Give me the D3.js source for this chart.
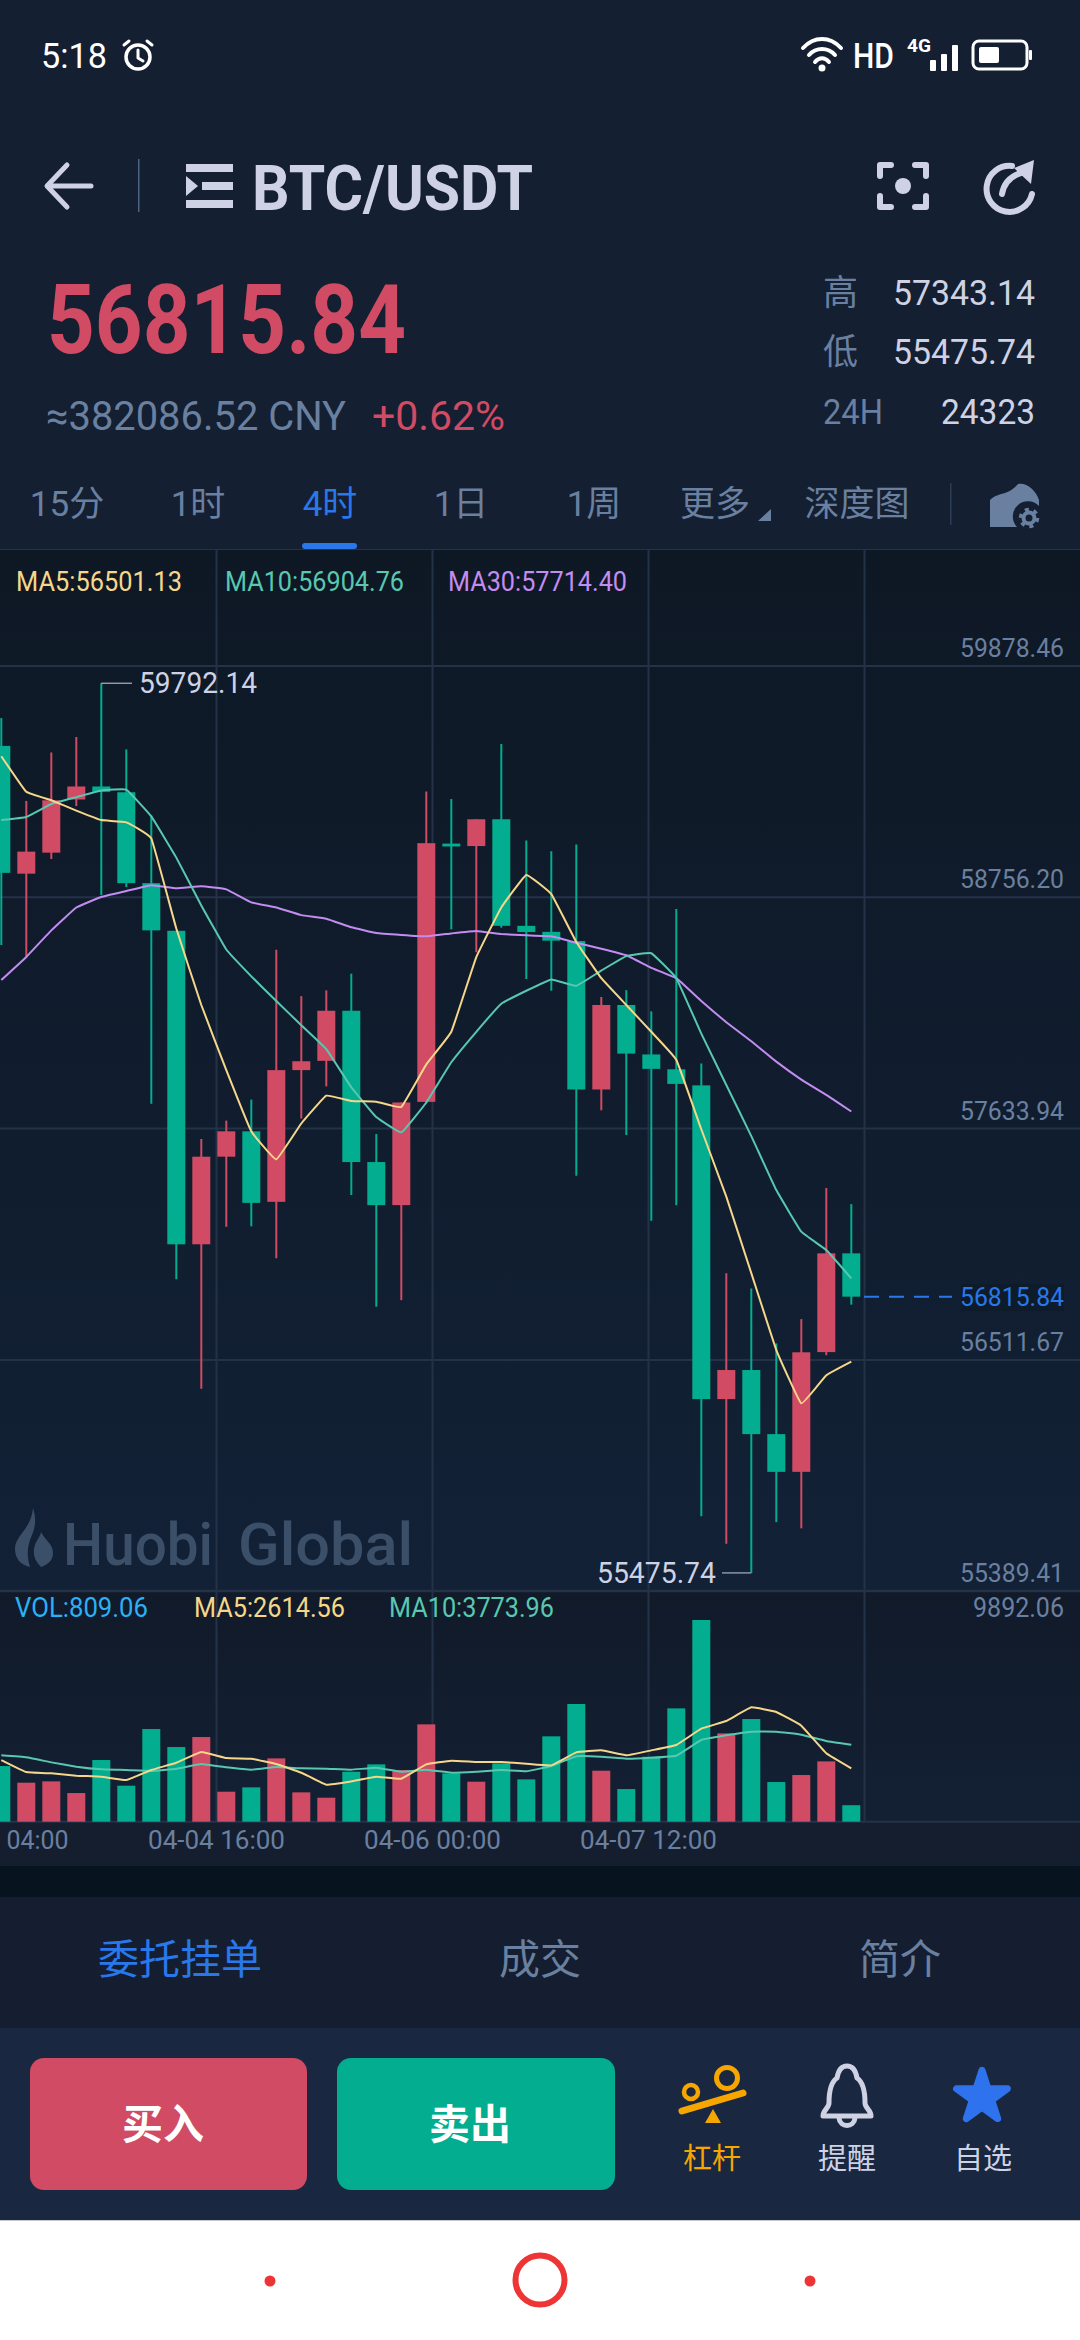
<!DOCTYPE html>
<html>
<head>
<meta charset="utf-8">
<script src="https://cdn.jsdelivr.net/npm/d3@7"></script>
<style>
  html, body { margin: 0; padding: 0; background: #141f31; }
  svg { display: block; }
  text { font-family: Roboto, "Noto Sans CJK SC", sans-serif; }
</style>
</head>
<body>
<div class="canvas"></div>
<script>
// candles, oldest first
const opens = [59488,58868,58970,59228,59291,59263,58822,58591,57070,57495,57618,57276,57915,57960,58203,57469,57260,57761,59014,59002,59132,58615,58586,58541,57821,58231,57991,57919,57841,56319,56460,56149,55966,56547,57026];
const highs = [59623,59221,59456,59531,59792.14,59471,59150,58591,57581,57670,57772,58499,58274,58302,58383,57605,57758,59267,59230,59132,59497,59029,58977,59009,58270,58303,58200,58697,57947,56929,56856,56589,56707,57343.14,57265];
const lows = [58522,58467,58939,59196,58764,58803,57752,56900,56369,57155,57157,57002,57680,57836,57309,56767,56799,57754,58598,58487,58606,58357,58300,57402,57720,57600,57184,57260,55751,55617,55475.74,55722,55692,56532,56777];
const closes = [58872,58975,59224,59291,59265,58822,58593,57070,57495,57618,57271,57915,57958,58203,57469,57260,57758,59016,59000,59132,58615,58585,58543,57821,58231,57995,57921,57848,56319,56460,56149,55966,56546,57026,56815.84];

const ma5 = [59438,59265,59224,59174,59128,59117,59039,58602,58231,57915,57618,57482,57656,57791,57765,57762,57736,57943,58101,58463,58704,58862,58769,58537,58361,58231,58101,57965,57628,57301,56930,56557,56298,56435,56501.13];
const ma10 = [59128,59143,59206,59239,59271,59276,59146,58946,58714,58500,58370,58250,58133,58017,57832,57687,57613,57758,57953,58101,58237,58300,58355,58324,58398,58468,58482,58361,58092,57843,57595,57333,57131,57042,56904.76];
const ma30 = [58352,58464,58593,58704,58755,58784,58812,58797,58807,58792,58729,58704,58667,58649,58608,58580,58571,58564,58578,58590,58575,58569,58564,58533,58504,58472,58411,58361,58250,58147,58055,57956,57869,57795,57714.40];

const volumes = [2730,1913,1978,1406,3025,1766,4545,3662,4153,1471,1684,3106,1439,1177,2452,2812,2534,4774,2371,1962,2861,2076,4186,5772,2501,1602,3188,5559,9892.06,4333,5036,1946,2289,2959,809.06];
const volMa5 = [3025,2436,2371,2256,2207,2044,2534,2894,3417,3123,3090,2829,2403,1815,1978,2207,2109,2812,2992,2927,2927,2845,2763,3401,3499,3254,3499,3761,4562,4938,5608,5379,4709,3352,2614.56];
const volMa10 = [3254,3156,2910,2698,2567,2534,2485,2600,2829,2665,2551,2681,2616,2600,2551,2649,2452,2551,2403,2452,2534,2469,2730,3205,3188,3090,3139,3237,4006,4235,4415,4415,4267,3957,3773.96];

const priceTicks = [59878.46,58756.20,57633.94,56511.67,55389.41];
const timeTicks = [0,1,2,3,4];
const timeLabels = ['04:00','04-04 16:00','04-06 00:00','04-07 12:00',''];
const periods = ['15分','1时','4时','1日','1周','更多','深度图'];
const stats = [['高','57343.14'],['低','55475.74'],['24H','24323']];
const lastPrice = 56815.84;

const RED = '#d04b63', GREEN = '#03ad8f', BLUE = '#2878ec', GREY = '#6a80a0', LIGHT = '#ced2e4';
const YELLOW = '#f6d78a', TEAL = '#58c8b0', PURPLE = '#c28cf0', GRID = '#243248';

const svg = d3.select('.canvas').append('svg').attr('width', 1080).attr('height', 2340);

const defs = svg.append('defs');
function gradient(id, from, to) {
  const g = defs.append('linearGradient').attr('id', id).attr('x1', 0).attr('y1', 0).attr('x2', 0).attr('y2', 1);
  g.append('stop').attr('offset', 0).attr('stop-color', from);
  g.append('stop').attr('offset', 1).attr('stop-color', to);
}
gradient('chartBg', '#0e1825', '#122136');
gradient('volBg', '#111a29', '#132034');

function box(x, y, w, h, fill, r) {
  return svg.append('rect').attr('x', x).attr('y', y).attr('width', w).attr('height', h).attr('fill', fill).attr('rx', r || 0);
}

// width squeezes the font to the narrow look of the app
function label(text, x, y, size, color, opts) {
  const o = opts || {};
  const t = svg.append('text').text(text)
    .attr('x', x).attr('y', y).attr('dy', '0.35em')
    .attr('font-size', size).attr('fill', color)
    .attr('text-anchor', o.anchor || 'start')
    .attr('font-weight', o.weight || 400);
  if (o.width) t.attr('textLength', o.width).attr('lengthAdjust', 'spacingAndGlyphs');
  return t;
}

function stroke(d, color, w) {
  return svg.append('path').attr('d', d).attr('fill', 'none').attr('stroke', color)
    .attr('stroke-width', w).attr('stroke-linecap', 'round').attr('stroke-linejoin', 'round');
}

function fill(d, color) {
  return svg.append('path').attr('d', d).attr('fill', color);
}

// backgrounds
box(0, 0, 1080, 549, '#141f31');
box(0, 549, 1080, 1042, 'url(#chartBg)');
box(0, 1591, 1080, 231, 'url(#volBg)');
box(0, 1822, 1080, 44, '#141e2f');
box(0, 1866, 1080, 31, '#07141f');
box(0, 1897, 1080, 131, '#141e30');
box(0, 2028, 1080, 192, '#192840');
box(0, 2220, 1080, 120, '#ffffff');
box(0, 2220, 1080, 1, '#c8c8c8');

// status bar
label('5:18', 41, 56, 35, '#ffffff', { width: 66 });
svg.append('circle').attr('cx', 138).attr('cy', 57).attr('r', 12).attr('fill', 'none').attr('stroke', '#fff').attr('stroke-width', 3.5);
stroke('M138 50V58L143 61M124 45L129 41M152 45L147 41', '#fff', 3);
stroke('M803 48C814 36 830 36 841 48M809 55C816 47 828 47 835 55M815 62C819 57 825 57 829 62', '#fff', 4);
svg.append('circle').attr('cx', 822).attr('cy', 68).attr('r', 3.5).attr('fill', '#fff');
label('HD', 853, 56, 35, '#fff', { width: 41, weight: 500 });
label('4G', 907, 46, 18, '#fff', { width: 24, weight: 700 });
[[930, 60], [941, 54], [952, 45]].forEach(b => box(b[0], b[1], 6, 71 - b[1], '#fff', 1));
box(973, 41, 54, 28, 'none', 6).attr('stroke', '#fff').attr('stroke-width', 3);
box(979, 47, 20, 16, '#fff', 2);
box(1029, 50, 3, 10, '#fff', 1);

// title row
stroke('M91 186H49M67 165L47 186L67 207', LIGHT, 5);
box(138, 159, 1.5, 53, '#4c6283');
box(186, 164, 47, 8, LIGHT);
box(186, 200, 47, 8, LIGHT);
box(202, 182, 31, 8, LIGHT);
fill('M186 176L198 186L186 196Z', LIGHT);
label('BTC/USDT', 252, 188, 63, LIGHT, { width: 281, weight: 700 });
stroke('M880 176V165H891M915 165H926V176M880 196V207H891M915 207H926V196', LIGHT, 6);
svg.append('circle').attr('cx', 903).attr('cy', 186).attr('r', 8).attr('fill', LIGHT);
stroke('M1012 166A23 23 0 1 0 1032 194', LIGHT, 6);
stroke('M1002 194C1004 182 1012 175 1024 172', LIGHT, 6);
fill('M1034 160L1031 184L1014 168Z', LIGHT);

// price block
label('56815.84', 47, 319, 96, RED, { width: 359, weight: 700 });
label('≈382086.52 CNY', 46, 416, 40, GREY, { width: 300 });
label('+0.62%', 372, 416, 40, RED, { width: 133 });
stats.forEach((s, i) => {
  const rowY = [293, 352, 412][i];
  label(s[0], 823, rowY, 35, GREY, s[0] === '24H' ? { width: 60 } : {});
  label(s[1], 1035, rowY, 35, LIGHT, { anchor: 'end', width: [142, 142, 94][i] });
});

// period tabs
const periodX = [67, 198, 330, 461, 594, 715, 857];
periods.forEach((p, i) => {
  label(p, periodX[i], 504, 35, p === '4时' ? BLUE : GREY, { anchor: 'middle' });
});
fill('M771 509V521H758Z', GREY);
box(950, 483, 1.5, 42, '#2c3c55');
fill('M990 527V500C998 492 1008 496 1018 484C1026 482 1036 490 1039 500V506A14 14 0 0 0 1017 527Z', GREY);
svg.append('circle').attr('cx', 1029).attr('cy', 518).attr('r', 5.5).attr('fill', 'none').attr('stroke', GREY).attr('stroke-width', 4);
svg.append('circle').attr('cx', 1029).attr('cy', 518).attr('r', 8.5).attr('fill', 'none').attr('stroke', GREY).attr('stroke-width', 3.5).attr('stroke-dasharray', '4 4.9');
box(302, 543, 55, 6, BLUE, 3);
box(0, 549, 1080, 1, '#253349');

// scales
const xBand = d3.scaleBand().domain(d3.range(opens.length)).range([-11.2, 863.8]).paddingInner(0.28).paddingOuter(0.14);
const xMid = (i) => xBand(i) + xBand.bandwidth() / 2;
const yPrice = d3.scaleLinear().domain([priceTicks[0], priceTicks[4]]).range([665.4, 1590.7]);
const yVol = d3.scaleLinear().domain([0, 9892.06]).range([1821.7, 1620]);
const xTime = d3.scaleLinear().domain([0, 5]).range([0, 1080]);

// grid
const grid = svg.append('g');
grid.append('g').attr('transform', 'translate(0,549.5)')
  .call(d3.axisTop(xTime).tickValues(timeTicks.slice(1)).tickSize(-1272).tickFormat(''));
grid.append('g').call(d3.axisLeft(yPrice).tickValues(priceTicks).tickSize(-1080).tickFormat(''));
grid.selectAll('.domain').remove();
grid.selectAll('line').attr('stroke', GRID).attr('stroke-width', 2);
grid.append('line').attr('x1', 0).attr('x2', 1080).attr('y1', yVol(0)).attr('y2', yVol(0)).attr('stroke', GRID).attr('stroke-width', 2);

// watermark
fill('M33 1508C38 1524 33 1532 30 1540C27 1549 27 1557 30 1567C20 1565 15 1558 15 1549C15 1535 31 1530 33 1508ZM41 1532C45 1540 53 1544 53 1553C53 1561 47 1565 41 1567C35 1561 33 1555 34 1549C35 1541 40 1538 41 1532Z', '#3b5068');
label('Huobi', 63, 1544, 60, '#3b5068', { width: 150, weight: 500 });
label('Global', 238, 1544, 60, '#3b5068', { width: 175, weight: 500 });

// candles
const candles = svg.append('g');
const idx = d3.range(opens.length);
const candleColor = (i) => closes[i] >= opens[i] ? RED : GREEN;
candles.selectAll('.wick').data(idx).join('line').attr('class', 'wick')
  .attr('x1', xMid).attr('x2', xMid)
  .attr('y1', (i) => yPrice(highs[i]))
  .attr('y2', (i) => yPrice(lows[i]))
  .attr('stroke', candleColor).attr('stroke-width', 2);
candles.selectAll('.body').data(idx).join('rect').attr('class', 'body')
  .attr('x', (i) => xBand(i))
  .attr('width', xBand.bandwidth())
  .attr('y', (i) => yPrice(Math.max(opens[i], closes[i])))
  .attr('height', (i) => Math.abs(yPrice(opens[i]) - yPrice(closes[i])))
  .attr('fill', candleColor);

// moving averages, only the corners are rounded in the app
const curve = d3.curveCardinal.tension(0.75);
const priceLine = d3.line().x((d, i) => xMid(i)).y((d) => yPrice(d)).curve(curve);
const volLine = d3.line().x((d, i) => xMid(i)).y((d) => yVol(d)).curve(curve);
[[ma30, PURPLE], [ma10, TEAL], [ma5, YELLOW]].forEach(s => {
  svg.append('path').attr('d', priceLine(s[0])).attr('fill', 'none').attr('stroke', s[1]).attr('stroke-width', 2);
});

// high and low callouts
const highIdx = highs.indexOf(d3.max(highs));
const lowIdx = lows.indexOf(d3.min(lows));
svg.append('line').attr('x1', xMid(highIdx)).attr('x2', 132).attr('y1', yPrice(highs[highIdx])).attr('y2', yPrice(highs[highIdx])).attr('stroke', LIGHT).attr('stroke-width', 1);
label(d3.format('.2f')(highs[highIdx]), 139, yPrice(highs[highIdx]), 29, LIGHT, { width: 118 });
svg.append('line').attr('x1', xMid(lowIdx)).attr('x2', 722).attr('y1', yPrice(lows[lowIdx])).attr('y2', yPrice(lows[lowIdx])).attr('stroke', '#8a93a8').attr('stroke-width', 1.5);
label(d3.format('.2f')(lows[lowIdx]), 716, yPrice(lows[lowIdx]), 29, LIGHT, { anchor: 'end', width: 119 });

// price axis
const yAxisG = svg.append('g').attr('transform', 'translate(1064,0)')
  .call(d3.axisRight(yPrice).tickValues(priceTicks).tickSize(0).tickFormat(d3.format('.2f')));
yAxisG.select('.domain').remove();
yAxisG.selectAll('text').attr('x', 0).attr('dy', '-0.34em').attr('text-anchor', 'end')
  .attr('font-size', 26).attr('font-family', 'Roboto').attr('fill', GREY)
  .attr('textLength', 104).attr('lengthAdjust', 'spacingAndGlyphs');

// last price marker
svg.append('line').attr('x1', 864).attr('x2', 952).attr('y1', yPrice(lastPrice)).attr('y2', yPrice(lastPrice))
  .attr('stroke', BLUE).attr('stroke-width', 2).attr('stroke-dasharray', '15 10');
box(961, 1284, 103, 27, '#0e1b2b');
label(d3.format('.2f')(lastPrice), 1064, 1297, 26, BLUE, { anchor: 'end', width: 104 });

// legends
label('MA5:56501.13', 16, 582, 27, YELLOW, { width: 166 });
label('MA10:56904.76', 225, 582, 27, TEAL, { width: 179 });
label('MA30:57714.40', 448, 582, 27, PURPLE, { width: 179 });

// volume
svg.append('line').attr('x1', 0).attr('x2', 1080).attr('y1', 1590.7).attr('y2', 1590.7).attr('stroke', GRID).attr('stroke-width', 2);
svg.append('g').selectAll('rect').data(idx).join('rect')
  .attr('x', (i) => xBand(i))
  .attr('width', xBand.bandwidth())
  .attr('y', (i) => yVol(volumes[i]))
  .attr('height', (i) => yVol(0) - yVol(volumes[i]))
  .attr('fill', candleColor);
[[volMa10, TEAL], [volMa5, YELLOW]].forEach(s => {
  svg.append('path').attr('d', volLine(s[0])).attr('fill', 'none').attr('stroke', s[1]).attr('stroke-width', 2);
});
label('VOL:809.06', 15, 1608, 27, '#2ab0f5', { width: 133 });
label('MA5:2614.56', 194, 1608, 27, YELLOW, { width: 151 });
label('MA10:3773.96', 389, 1608, 27, TEAL, { width: 165 });
label('9892.06', 1064, 1608, 27, GREY, { anchor: 'end', width: 91 });

// time axis
const xAxisG = svg.append('g').attr('transform', 'translate(0,1822)')
  .call(d3.axisBottom(xTime).tickValues(timeTicks.slice(0, 4)).tickSize(0).tickFormat((d, i) => timeLabels[i]));
xAxisG.select('.domain').remove();
xAxisG.selectAll('text').attr('y', 18).attr('dy', '0.35em')
  .attr('font-size', 26).attr('font-family', 'Roboto').attr('fill', GREY)
  .attr('textLength', (d, i) => i === 0 ? 62 : 137).attr('lengthAdjust', 'spacingAndGlyphs');
// the first label would fall off the left edge, so it starts inside
xAxisG.selectAll('text').filter((d, i) => i === 0).attr('text-anchor', 'start').attr('x', 6);

// lower tabs
label('委托挂单', 180, 1960, 41, BLUE, { anchor: 'middle' });
label('成交', 540, 1960, 41, GREY, { anchor: 'middle' });
label('简介', 900, 1960, 41, GREY, { anchor: 'middle' });

// action bar
box(30, 2058, 277, 132, RED, 14);
box(337, 2058, 278, 132, GREEN, 14);
label('买入', 163, 2125, 41, '#fff', { anchor: 'middle', weight: 700 });
label('卖出', 470, 2125, 41, '#fff', { anchor: 'middle', weight: 700 });

const ORANGE = '#f7a600';
svg.append('circle').attr('cx', 727).attr('cy', 2078).attr('r', 10.5).attr('fill', 'none').attr('stroke', ORANGE).attr('stroke-width', 5);
svg.append('circle').attr('cx', 691).attr('cy', 2092).attr('r', 7).attr('fill', 'none').attr('stroke', ORANGE).attr('stroke-width', 4.5);
stroke('M682 2111L743 2093', ORANGE, 7);
fill('M713 2109L721 2123H705Z', ORANGE);
label('杠杆', 712, 2159, 29, ORANGE, { anchor: 'middle' });

stroke('M847 2066C840 2066 838 2072 837 2078C831 2082 829 2092 829 2103C829 2108 823 2110 823 2116H871C871 2110 865 2108 865 2103C865 2092 863 2082 857 2078C856 2072 854 2066 847 2066ZM839 2118C840 2128 854 2128 855 2118', LIGHT, 5);
label('提醒', 847, 2159, 29, LIGHT, { anchor: 'middle' });

svg.append('path').attr('d', d3.symbol().type(d3.symbolStar).size(800)())
  .attr('transform', 'translate(982,2097)').attr('fill', '#2e72ee')
  .attr('stroke', '#2e72ee').attr('stroke-width', 7).attr('stroke-linejoin', 'round');
label('自选', 983, 2159, 29, LIGHT, { anchor: 'middle' });

// navigation bar
const NAV = '#ee3535';
svg.append('circle').attr('cx', 270).attr('cy', 2281).attr('r', 5.5).attr('fill', NAV);
svg.append('circle').attr('cx', 810).attr('cy', 2281).attr('r', 5.5).attr('fill', NAV);
svg.append('circle').attr('cx', 540).attr('cy', 2280).attr('r', 24.5).attr('fill', 'none').attr('stroke', NAV).attr('stroke-width', 6);
</script>
</body>
</html>
